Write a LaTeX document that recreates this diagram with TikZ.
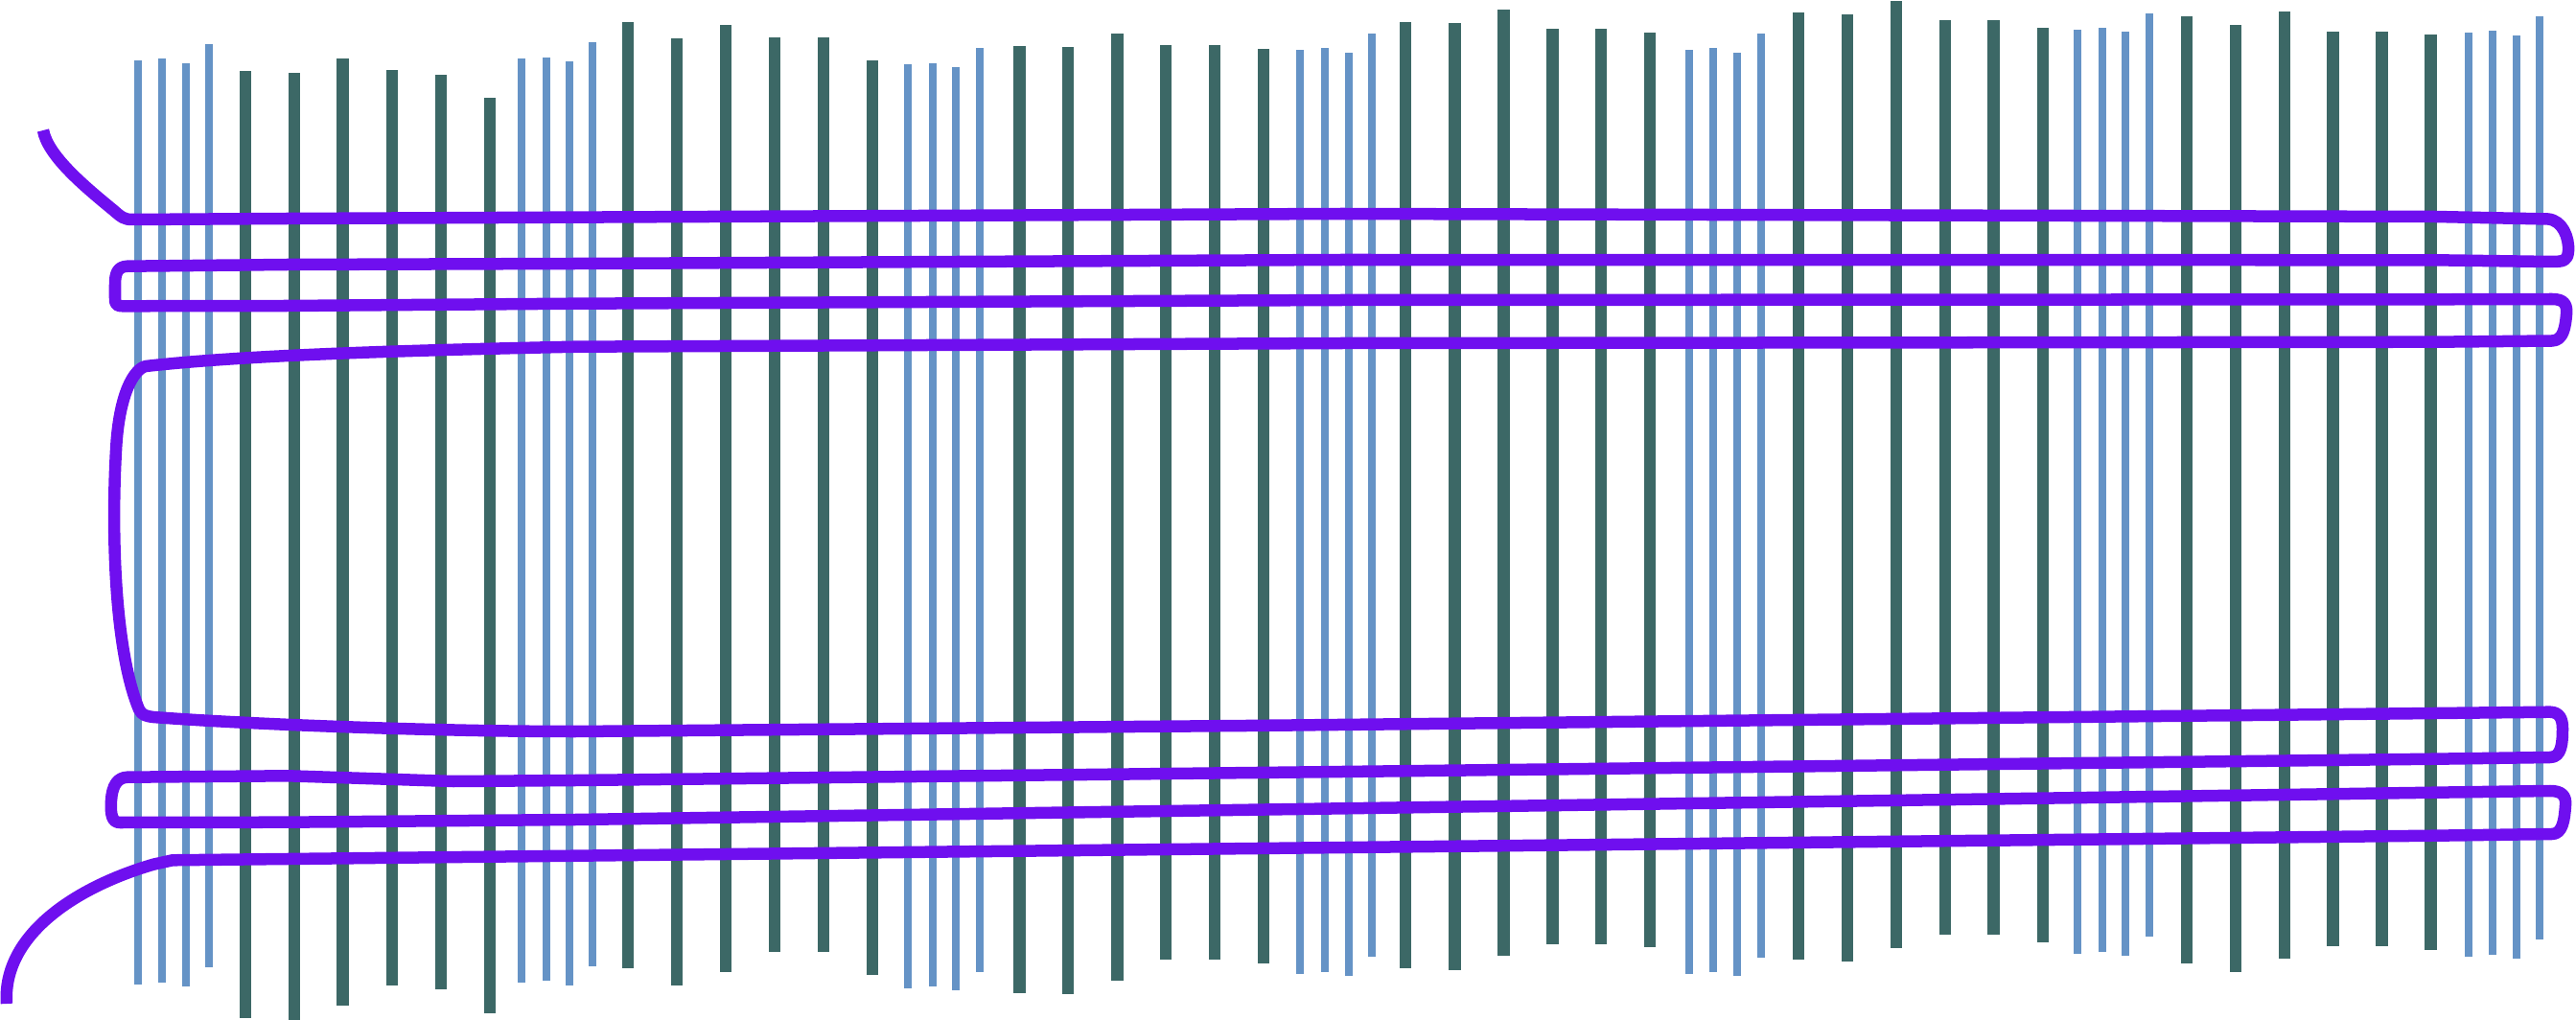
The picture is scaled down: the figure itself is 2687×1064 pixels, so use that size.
\documentclass[tikz,border=0pt]{standalone}
\definecolor{barblue}{HTML}{6593C6}
\definecolor{barteal}{HTML}{3C6866}
\definecolor{wirepurple}{HTML}{6F0FEF}
\begin{document}
\begin{tikzpicture}[x=0.01cm,y=-0.01cm,
  thinbar/.style={fill=barblue},
  thickbar/.style={fill=barteal},
  wirestyle/.style={draw=wirepurple,line width=0.125cm,line join=round}]
\useasboundingbox (0,0) rectangle (2687,1064);
% thin blue bars: x centre / top / bottom
\foreach \x/\t/\b in {143.5/63/1026.7,169.3/61/1024.7,194/65.7/1029.3,218/46/1009.3,
  543.6/61.3/1025.3,569.5/59.7/1023,594/64/1027.7,618/44.3/1007.7,
  946.8/67.3/1031,973.2/66/1029.3,996.8/70.3/1033.3,1021.5/50.3/1013.7,
  1356/52.3/1016.3,1382/50.3/1014,1406.6/55/1018.3,1430.8/35/998.3,
  1762/52.3/1016,1787/50.5/1014.3,1812.4/55/1018.3,1837.3/35/998.7,
  2167/31/994.7,2193/29/992.7,2217.3/33.3/997.3,2242/14/977.3,
  2574.8/34/997.7,2600/32.3/995.7,2625/36.7/1000,2649.4/16.7/980.3}
  \fill[thinbar] (\x-4,\t) rectangle (\x+4,\b);
% thick teal bars
\foreach \x/\t/\b in {256/74.3/1062.3,307/75.7/1063.7,357.6/61.3/1049.3,408.7/73.3/1028.3,459.8/78/1032.3,511/102.3/1056.7,
  655/22.7/1010.3,706/40.3/1028.3,757/26.3/1014.3,808/38.7/993,859/38.7/993,910/63/1017.3,
  1063.4/48/1035.7,1113.9/49/1037,1165.5/35/1022.7,1216/47.3/1001.3,1267/47.3/1001.3,1318/51/1005.3,
  1466/22.7/1010.3,1517.4/24/1011.7,1568.5/10/997.3,1619.6/30/984.7,1670/30/984.7,1721/34/988.3,
  1876/13.3/1001.3,1927/14.7/1002.7,1977.8/0.7/988.7,2028.7/21/975.3,2079.6/21/975.3,2131/29/983.3,
  2281/16.7/1004.7,2331.8/26.3/1014.3,2382.7/12.3/1000.3,2433.6/33/987.3,2484.5/33/987.3,2535.4/36.3/991}
  \fill[thickbar] (\x-6.2,\t) rectangle (\x+6.2,\b);
% the purple wire
\draw[wirestyle]
  (45,136) .. controls (50,162) and (85,192) .. (118,219)
  .. controls (127,227) and (130,229) .. (138,229)
  -- (300,228) -- (1400,223) -- (2540,226) -- (2658,228.5)
  .. controls (2673,230) and (2680,248) .. (2679,262)
  .. controls (2678,272) and (2675,273) .. (2660,273)
  -- (2540,271.3) -- (1400,271) -- (600,275) -- (300,276) -- (133,277.7)
  .. controls (122,278) and (120,286) .. (120,297)
  -- (120,311)
  .. controls (120,318) and (122,319.3) .. (128,319.3)
  -- (300,319) -- (600,316.7) -- (1400,313) -- (2540,312.3) -- (2662,312)
  .. controls (2675,312) and (2678,318) .. (2677,328)
  .. controls (2676,340) and (2674,355.5) .. (2662,355.5)
  -- (2540,356.7) -- (1400,358) -- (600,361.7)
  .. controls (400,366) and (250,371) .. (152,382)
  .. controls (140,385) and (124,410) .. (121,470)
  .. controls (116,560) and (120,680) .. (145,740)
  .. controls (148,746) and (152,747) .. (160,748)
  .. controls (250,755) and (450,763) .. (600,763)
  -- (1300,757) -- (2540,744) -- (2660,742.7)
  .. controls (2670,743) and (2673,750) .. (2673,760)
  .. controls (2673,775) and (2672,790) .. (2660,790)
  -- (2540,791.7) -- (1400,805) -- (600,814) -- (473,815) -- (300,809.3) -- (133,810.7)
  .. controls (122,811) and (117,820) .. (116,835)
  .. controls (115,850) and (117,858) .. (125,858)
  -- (300,857.7) -- (600,855) -- (2540,826.7) -- (2660,825)
  .. controls (2672,825) and (2677,830) .. (2676,840)
  .. controls (2675,855) and (2673,870) .. (2662,870)
  -- (2540,871.7) -- (600,892.7) -- (300,896) -- (180,897.3) -- (160,901.7)
  .. controls (80,925) and (2,975) .. (7,1047);
\end{tikzpicture}
\end{document}
